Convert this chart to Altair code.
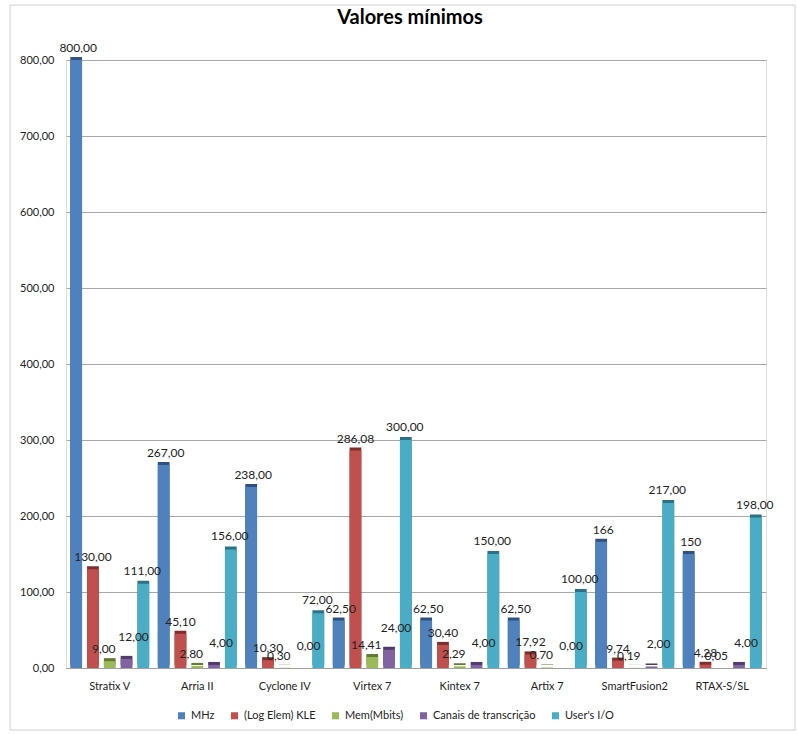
import altair as alt
import pandas as pd

categories = ["Stratix V", "Arria II", "Cyclone IV", "Virtex 7", "Kintex 7",
              "Artix 7", "SmartFusion2", "RTAX-S/SL"]
series = ["MHz", "(Log Elem) KLE", "Mem(Mbits)", "Canais de transcrição", "User's I/O"]

mhz = [800.00, 267.00, 238.00, 62.50, 62.50, 62.50, 166, 150]
kle = [130.00, 45.10, 10.30, 286.08, 30.40, 17.92, 9.74, 4.28]
mem = [9.00, 2.80, 0.30, 14.41, 2.29, 0.70, 0.19, 0.05]
canais = [12.00, 4.00, 0.00, 24.00, 4.00, 0.00, 2.00, 4.00]
userio = [111.00, 156.00, 72.00, 300.00, 150.00, 100.00, 217.00, 198.00]

mhz_labels = ["800,00", "267,00", "238,00", "62,50", "62,50", "62,50", "166", "150"]
kle_labels = ["130,00", "45,10", "10,30", "286,08", "30,40", "17,92", "9,74", "4,28"]
mem_labels = ["9,00", "2,80", "0,30", "14,41", "2,29", "0,70", "0,19", "0,05"]
canais_labels = ["12,00", "4,00", "0,00", "24,00", "4,00", "0,00", "2,00", "4,00"]
userio_labels = ["111,00", "156,00", "72,00", "300,00", "150,00", "100,00", "217,00", "198,00"]

title_text = "Valores mínimos"

colors = ["#4F81BD", "#C0504D", "#9BBB59", "#8064A2", "#4BACC6"]
dark_colors = ["#2F527F", "#7E2E2C", "#62792F", "#4F3C6A", "#2A7386"]
# label nudges per series (dx, dy), styling only
label_nudge = {"MHz": (2, -12), "(Log Elem) KLE": (0, -12), "Mem(Mbits)": (-6, -12),
               "Canais de transcrição": (7, -22), "User's I/O": (-1, -13)}

rows = []
for s, vals, labs, dc in zip(series, [mhz, kle, mem, canais, userio],
                             [mhz_labels, kle_labels, mem_labels, canais_labels, userio_labels],
                             dark_colors):
    for c, v, l in zip(categories, vals, labs):
        rows.append({"category": c, "series": s, "value": v, "label": l, "dark": dc})
df = pd.DataFrame(rows)

x = alt.X("category:N", sort=categories,
          scale=alt.Scale(paddingInner=0.06, paddingOuter=0.03),
          axis=alt.Axis(title=None, labelAngle=0, labelFont="Lato", labelFontSize=11,
                        labelColor="#222222", ticks=False, domainColor="#a0a0a0",
                        labelPadding=12))
xoff = alt.XOffset("series:N", sort=series, scale=alt.Scale(paddingInner=0.3, paddingOuter=0.1))
y = alt.Y("value:Q", scale=alt.Scale(domain=[0, 800], nice=False),
          axis=alt.Axis(title=None, values=list(range(0, 801, 100)),
                        labelExpr="replace(format(datum.value, '.2f'), '.', ',')",
                        labelFont="Lato", labelFontSize=11, labelColor="#222222",
                        gridColor="#a8a8a8", gridWidth=1.2, domain=False, ticks=False,
                        labelPadding=12))

base = alt.Chart(df)

shadow = base.mark_bar(xOffset=4, yOffset=-3).encode(
    x=x, xOffset=xoff, y=y,
    color=alt.Color("dark:N", scale=None),
)

bars = base.mark_bar().encode(
    x=x, xOffset=xoff, y=y,
    color=alt.Color("series:N", sort=series,
                    scale=alt.Scale(domain=series, range=colors),
                    legend=alt.Legend(title=None, orient="none", direction="horizontal",
                                      legendX=110, legendY=650, symbolType="square",
                                      symbolSize=50, labelFont="Lato", labelFontSize=11,
                                      labelColor="#222222", columnPadding=14)),
)

texts = []
for s in series:
    ddx, ddy = label_nudge[s]
    texts.append(
        base.transform_filter(alt.datum.series == s).mark_text(
            dy=ddy, dx=ddx, font="Lato", fontSize=12, color="#222222"
        ).encode(x=x, xOffset=xoff, y=y, text="label:N")
    )

aux = pd.DataFrame({"t": [title_text]})

frame = alt.Chart(aux).mark_rect(
    fill=None, stroke="#d0d0d0", strokeWidth=1
).encode(x=alt.value(-56), x2=alt.value(729), y=alt.value(-55), y2=alt.value(670))

title = alt.Chart(aux).mark_text(
    font="Lato", fontSize=20, fontWeight="bold", color="#000000", align="center", baseline="middle"
).encode(x=alt.value(344), y=alt.value(-42), text="t:N")

chart = alt.layer(frame, shadow, bars, *texts, title).properties(
    width=700, height=608,
    autosize=alt.AutoSizeParams(type="none"),
    padding={"left": 66, "top": 60, "right": 31, "bottom": 66},
).configure_view(stroke=None).configure(background="white")

chart.save("out.html", embed_options={"renderer": "svg", "actions": False})
